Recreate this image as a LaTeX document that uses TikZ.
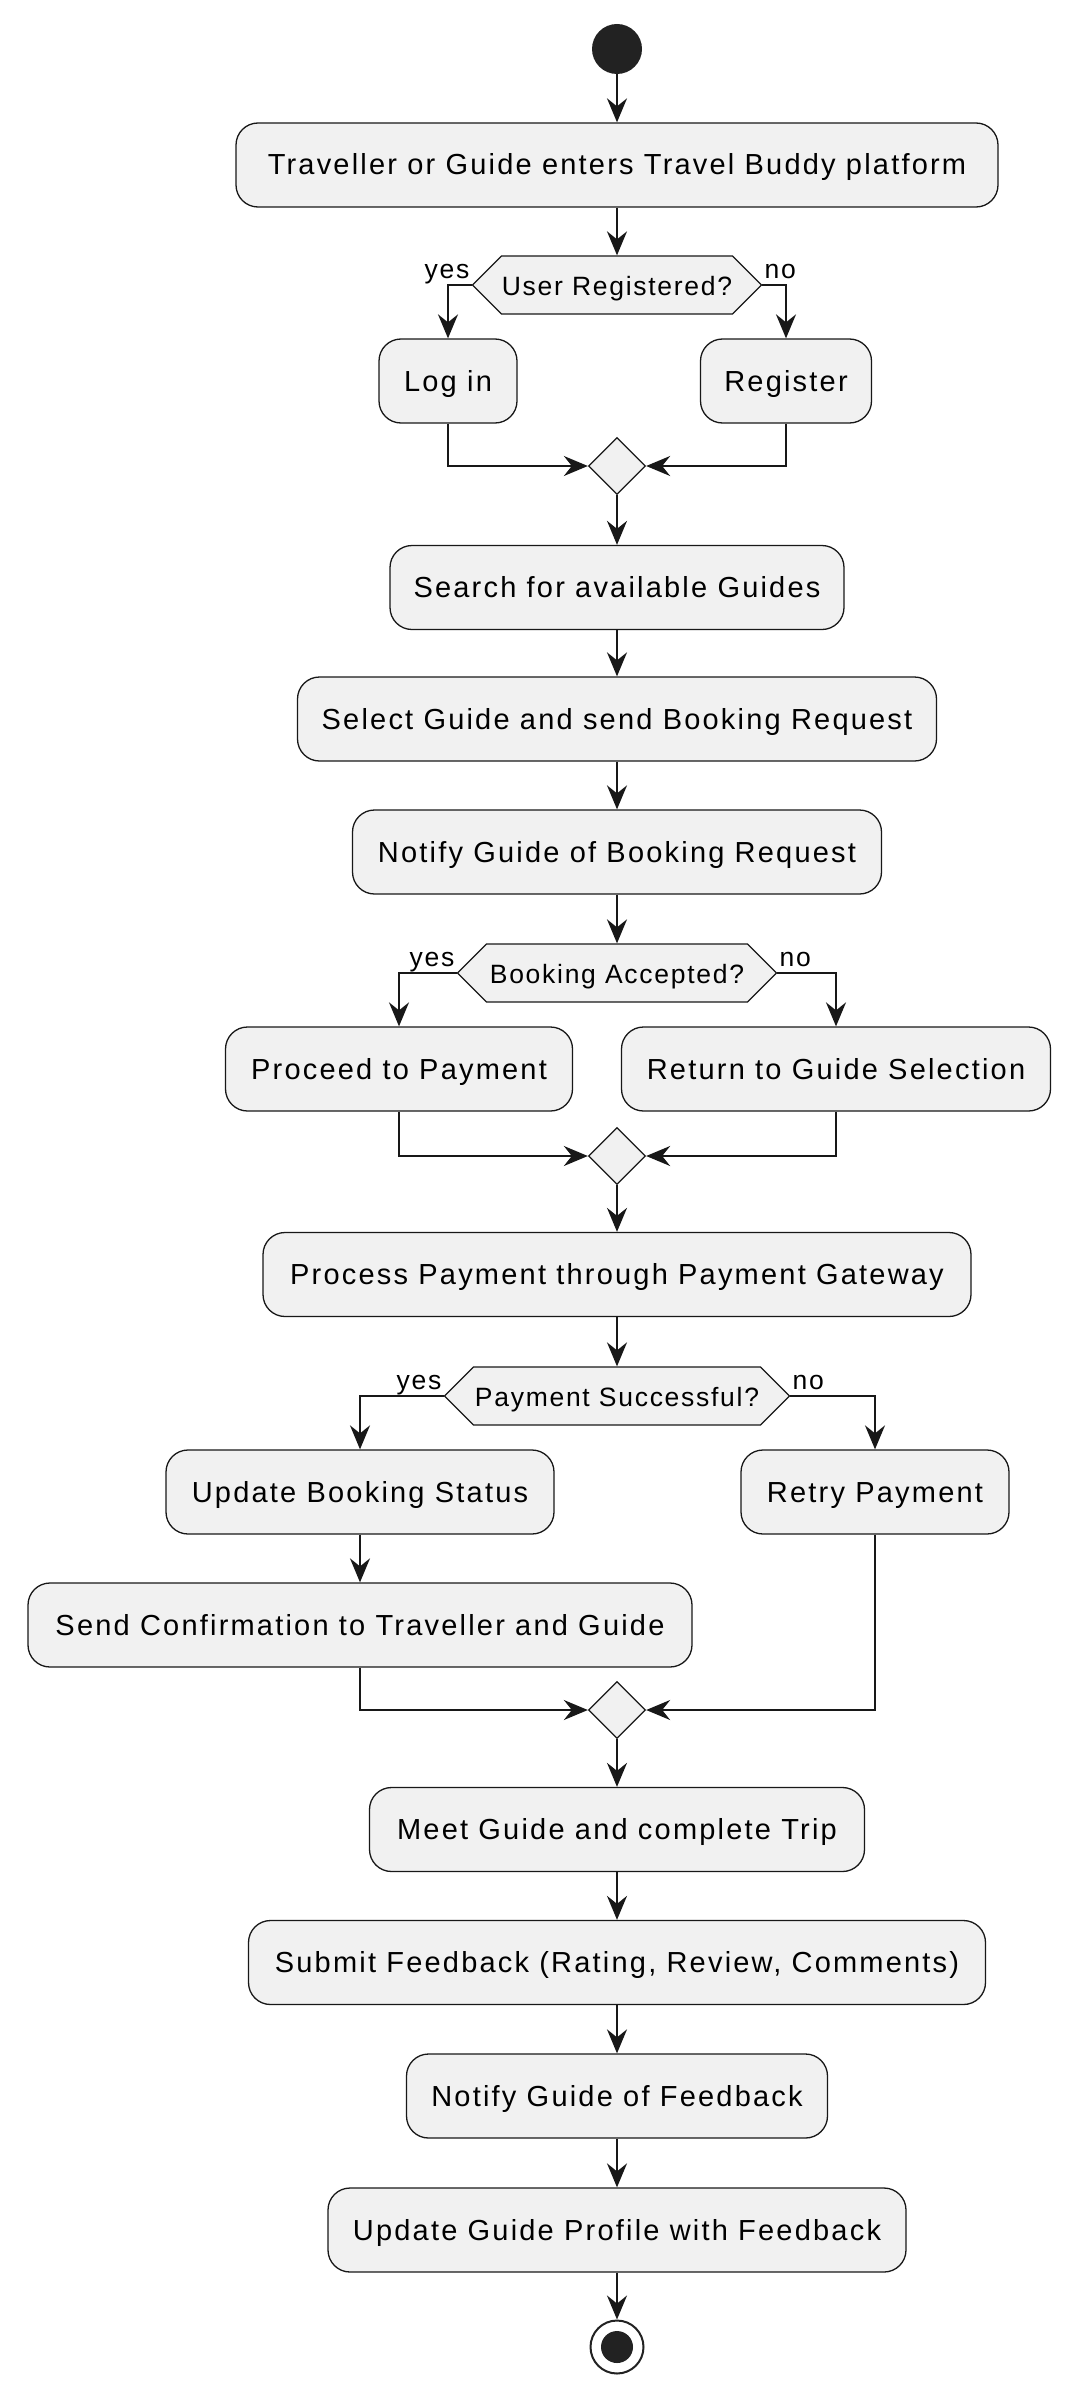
\documentclass[tikz,border=0pt]{standalone}
\usepackage{fontspec}
\setmainfont[LetterSpace=6.5]{Liberation Sans}
\newfontfamily\actfont[LetterSpace=7.6]{Liberation Sans}
\usetikzlibrary{arrows.meta,calc,shapes.geometric,shapes.symbols}
\definecolor{umlfill}{HTML}{F1F1F1}
\definecolor{umlline}{HTML}{181818}
\definecolor{umldot}{HTML}{222222}

\begin{document}
\begin{tikzpicture}[x=1pt,y=-1pt,
    act/.style={draw=umlline,fill=umlfill,line width=1.3pt,rounded corners=22pt,minimum height=84pt,inner sep=0pt,font=\actfont\fontsize{29}{35}\selectfont,text height=27pt,text depth=7pt},
    dec/.style={shape=signal,signal to=west and east,signal pointer angle=90,draw=umlline,fill=umlfill,line width=1.3pt,minimum height=58pt,inner sep=0pt,font=\fontsize{26.5}{32}\selectfont,text height=25pt,text depth=5pt},
    merge/.style={diamond,draw=umlline,fill=umlfill,line width=1.3pt,minimum width=57pt,minimum height=57pt,inner sep=0pt},
    lbl/.style={inner sep=0pt,font=\fontsize{26.5}{32}\selectfont},
    flow/.style={draw=umlline,line width=2pt,-{Stealth[length=24pt,width=20pt,inset=8pt]}}]
                \useasboundingbox (0,0) rectangle (1077,2400);
                \node[circle,fill=umldot,minimum size=50pt,inner sep=0pt] (start) at (617,49) {};
                \node[act,minimum width=762pt] (enter) at (617,165) {Traveller or Guide enters Travel Buddy platform};
                \node[dec,minimum width=289pt] (dec1) at (617,285) {User Registered?};
                \node[act,minimum width=138pt] (login) at (448,381) {Log in};
                \node[act,minimum width=171pt] (register) at (786,381) {Register};
                \node[merge] (merge1) at (617,466) {};
                \node[act,minimum width=454pt] (search) at (617,587.5) {Search for available Guides};
                \node[act,minimum width=639pt] (select) at (617,719) {Select Guide and send Booking Request};
                \node[act,minimum width=529pt] (notify) at (617,852) {Notify Guide of Booking Request};
                \node[dec,minimum width=319pt] (dec2) at (617,973) {Booking Accepted?};
                \node[act,minimum width=347pt] (proceed) at (399,1069) {Proceed to Payment};
                \node[act,minimum width=429pt] (return) at (836,1069) {Return to Guide Selection};
                \node[merge] (merge2) at (617,1156) {};
                \node[act,minimum width=708pt] (process) at (617,1274.5) {Process Payment through Payment Gateway};
                \node[dec,minimum width=345pt] (dec3) at (617,1396) {Payment Successful?};
                \node[act,minimum width=388pt] (status) at (360,1492) {Update Booking Status};
                \node[act,minimum width=268pt] (retry) at (875,1492) {Retry Payment};
                \node[act,minimum width=664pt] (confirm) at (360,1625) {Send Confirmation to Traveller and Guide};
                \node[merge] (merge3) at (617,1710) {};
                \node[act,minimum width=495pt] (meet) at (617,1829.5) {Meet Guide and complete Trip};
                \node[act,minimum width=737pt] (feedback) at (617,1962.5) {Submit Feedback (Rating, Review, Comments)};
                \node[act,minimum width=421pt] (notifyfb) at (617,2096) {Notify Guide of Feedback};
                \node[act,minimum width=578pt] (profile) at (617,2230) {Update Guide Profile with Feedback};
                \node[circle,draw=umldot,line width=2pt,fill=white,minimum size=53pt,inner sep=0pt] (stop) at (617,2347) {};
                \node[circle,fill=umldot,minimum size=32pt,inner sep=0pt] (stopdot) at (stop) {};
                \foreach \a/\b in {start/enter,enter/dec1,merge1/search,search/select,select/notify,notify/dec2,merge2/process,process/dec3,status/confirm,merge3/meet,meet/feedback,feedback/notifyfb,notifyfb/profile,profile/stop}
                {
                \draw[flow] (\a.south) -- (\b.north);
                }
                \foreach \d/\l/\r/\m in {dec1/login/register/merge1,dec2/proceed/return/merge2,dec3/status/retry/merge3}
                {
                \draw[flow] (\d.west) -| (\l.north);
                \draw[flow] (\d.east) -| (\r.north);
                \node[lbl,anchor=base east] (\d-yes) at ($(\d.west)+(-2,-7)$) {yes};
                \node[lbl,anchor=base west] (\d-no) at ($(\d.east)+(2,-7)$) {no};
                \draw[flow] (\r.south) |- (\m.east);
                }
                \draw[flow] (login.south) |- (merge1.west);
                \draw[flow] (proceed.south) |- (merge2.west);
                \draw[flow] (confirm.south) |- (merge3.west);
            \end{tikzpicture}
\end{document}
